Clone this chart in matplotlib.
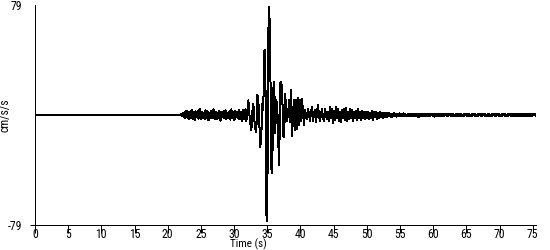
import numpy as np
import matplotlib
matplotlib.use("Agg")
import matplotlib.pyplot as plt

# ---- data (cm/s/s) ----
quiet_t = [0.0, 21.5]
quiet_v = [0.0, 0.0]

wave_start = 21.5   # s
wave_dt = 0.15      # s

onset = [0, 0.3, -0.3, 0.5, -0.6, 0.8]
p_coda = [1.8, -2.5, 3.0, -1.6, 2.7, -3.2, 1.9, -2.2, 3.6, -2.8,
          2.1, -3.5, 2.6, -1.4, 3.1, -2.6, 4.5, -3.0, 2.2, -2.4,
          1.5, -2.9, 3.3, -2.0, 2.8, -3.8, 1.7, -1.9, 3.0, -2.3,
          4.2, -2.7, 2.4, -3.1, 1.8, -2.2, 2.9, -4.1, 2.0, -1.6,
          2.6, -2.4, 3.4, -2.9, 1.6, -2.0, 2.7, -3.3, 4.0, -2.1,
          2.3, -3.6, 2.9, -1.8, 2.2, -2.7, 3.6, -3.0, 2.5, -4.3]
strong = [3.5, -3.0, 4.0, -4.5, 2.5, 10.5, 1.0, -6, -11, 2,
          8, -3, -10, -12, 14.6, 10.5, -5, -23, -16, 8,
          3.4, 46, 46.5, -71, -76, 58, 77.5, 46, -38.5, -42,
          18, 24, -13, 10.5, 8, -18, -36, 22.5, 24, 18,
          -15, -16, 15, 3.4, -4, 2, 10.5, -5, 18, -15,
          3, 10.5, -11, 10.5, -10, 12, -7.5, 10.5, -4, 11.5,
          1, -7.5, 3.4, -1, -3, 4.5, 0, -4, 2, 5.7,
          -4, 1, 3.4, -5, 2, 7.4, -1, -4, 1, 4.5,
          -2, -4, 4.5, 0, -3, 2]
s_coda = [-4.5, 5.5, -2, 4, -5.5, 3, -3.5, 6, -2.5, 4.5,
          -4, 2.5, -5, 3.5, -2, 4.5, -3.5, 5, -4.5, 2,
          -3, 4, -2.5, 3.5, -4, 2.5, -2, 3, -3.5, 4,
          -2.5, 2, -3.5, 3, -2, 2.5, -3, 2]
late_coda = [-2.5, 2.5, -3.2, 1.5, -2, 2.8, -3.4, 2, -1.5, 2.2,
             -2.8, 1.8, -2.2, 2, -1.5, 1.6, -2, 1.2, -1.5, 1.4,
             -1.2, 1.6, -1, 1.2, -1.4, 0.8, -1.1, 1.3, -0.9, 1,
             -1.2, 0.7, -1, 1.1]
tail = [-0.8, 0.9, -0.6, 1.1, -0.9, 0.5, -1.0, 0.8, -0.5, 0.7,
        -0.9, 1.0, -0.4, 0.6, -0.8, 0.9, -0.7, 0.4, -1.5, 0.8,
        -0.6, 0.9, -0.8, 0.5, -0.7, 1.0, -0.5, 0.6, -0.9, 0.7,
        -0.4, 0.8, -0.6, 0.5, -1.3, 0.6, -0.5, 0.9, -0.7, 0.4,
        -0.8, 0.6, -0.5, 0.7, -0.6, 1.0, -0.4, 0.5, -0.7, 0.6,
        -0.5, 0.8, -0.6, 0.4, -0.9, 0.5, -0.4, 0.7, -0.6, 0.5,
        -0.5, 0.6, -0.8, 0.4, -0.5, 0.7, -0.4, 0.5, -0.6, 0.8,
        -0.5, 0.4, -0.7, 0.6, -0.4, 0.5, -0.6, 0.4, -0.8, 0.5,
        -0.4, 0.6, -0.5, 0.7, -0.4, 0.5, -0.6, 0.4, -0.5, 0.6,
        -0.7, 0.4, -0.5, 0.6, -0.4, 0.5, -0.6, 0.7, -0.4, 0.5,
        -0.5, 0.4, -0.6, 0.5, -0.4, 0.6, -0.5, 0.4, -0.6, 0.5,
        -0.4, 0.5, -0.5, 0.6, -0.4, 0.4, -0.5, 0.6, -0.4, 0.5,
        -0.5, 0.4, -0.4, 0.5, -0.6, 0.4, -0.4, 0.5, -0.5, 0.4,
        -0.4, 0.5, -0.4, 0.5, -0.3, 0.4, -0.4]

x_ticks = [0, 5, 10, 15, 20, 25, 30, 35, 40, 45, 50, 55, 60, 65, 70, 75]
y_ticks = [-79, 79]
y_ticklabels = ["-79", "79"]
x_label = "Time (s)"
y_label = "cm/s/s"

# ---- assemble series ----
wave_v = np.array(onset + p_coda + strong + s_coda + late_coda + tail, dtype=float)
wave_t = wave_start + wave_dt * np.arange(len(wave_v))

plt.rcParams['font.family'] = ['Roboto Condensed', 'DejaVu Sans']

fig = plt.figure(figsize=(5.5, 2.5), dpi=100)
ax = fig.add_axes([35/550, 25/250, 501/550, 220/250])
ax.plot(quiet_t, quiet_v, color='black', lw=1.44, antialiased=False,
        solid_capstyle='butt')
ax.plot(wave_t, wave_v, color='black', lw=0.72, antialiased=False)
ax.set_xlim(0, 75.5)
ax.set_ylim(-79, 79)

for s in ['top', 'right']:
    ax.spines[s].set_visible(False)
for s in ['left', 'bottom']:
    ax.spines[s].set_linewidth(0.72)
    ax.spines[s].set_antialiased(False)

ax.set_xticks(x_ticks)
ax.set_xticklabels([str(x) for x in x_ticks])
ax.set_yticks(y_ticks)
ax.set_yticklabels(y_ticklabels)
ax.tick_params(axis='x', direction='out', length=5.5, width=0.72,
               labelsize=8.5, pad=-3.5)
ax.tick_params(axis='y', direction='out', length=3.6, width=0.72,
               labelsize=8.5, pad=6)
ax.yaxis.get_major_ticks()[1].tick1line.set_visible(False)

ax.set_xlabel(x_label, fontsize=8, va='bottom')
ax.xaxis.set_label_coords((248 - 35) / 501, -25.0 / 220)
ax.set_ylabel(y_label, fontsize=8.5)
ax.yaxis.set_label_coords(-(35 - 12) / 501, 0.5)

fig.savefig("out.png", dpi=100)
